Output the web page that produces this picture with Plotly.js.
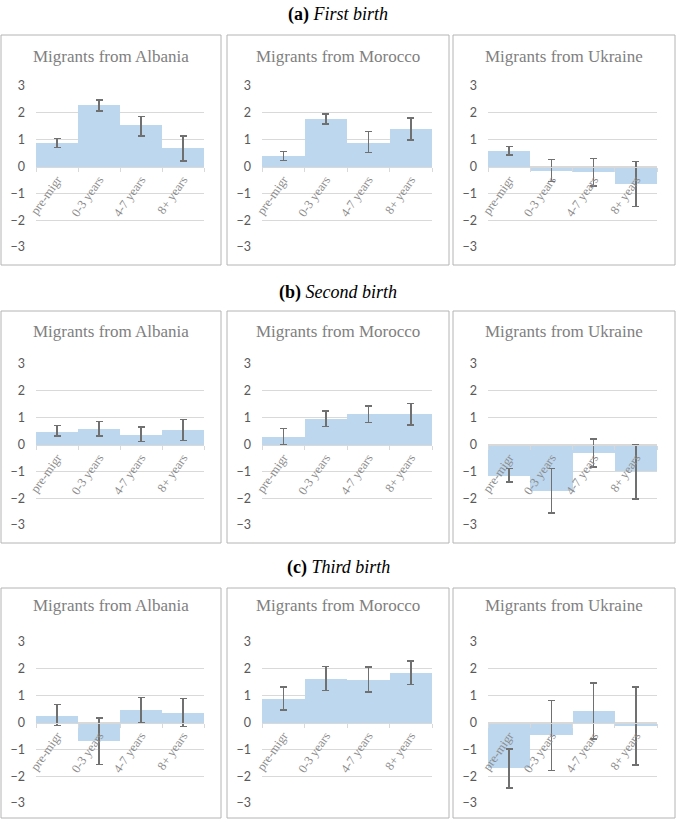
<!DOCTYPE html>
<html>
<head>
<meta charset="utf-8">
<script src="https://cdn.plot.ly/plotly-3.0.1.min.js"></script>
<style>
  html, body { margin: 0; padding: 0; background: #fff; }
  #chart { width: 676px; height: 819px; }
</style>
</head>
<body>
<div id="chart"></div>
<script>
const categories = ["pre-migr", "0-3 years", "4-7 years", "8+ years"];
const countries = ["Albania", "Morocco", "Ukraine"];
const sectionLabels = ["(a)", "(b)", "(c)"];
const sectionNames = ["First birth", "Second birth", "Third birth"];
const yTicks = [-3, -2, -1, 0, 1, 2, 3];

// first birth
const albania1 = [0.89, 2.28, 1.54, 0.69];
const albania1Hi = [1.05, 2.47, 1.86, 1.14];
const albania1Lo = [0.70, 2.07, 1.14, 0.21];
const morocco1 = [0.40, 1.77, 0.89, 1.38];
const morocco1Hi = [0.56, 1.96, 1.30, 1.80];
const morocco1Lo = [0.22, 1.58, 0.52, 0.99];
const ukraine1 = [0.58, -0.15, -0.20, -0.64];
const ukraine1Hi = [0.74, 0.27, 0.30, 0.19];
const ukraine1Lo = [0.43, -0.56, -0.72, -1.49];

// second birth
const albania2 = [0.48, 0.58, 0.37, 0.53];
const albania2Hi = [0.70, 0.85, 0.66, 0.93];
const albania2Lo = [0.31, 0.32, 0.11, 0.14];
const morocco2 = [0.29, 0.95, 1.12, 1.14];
const morocco2Hi = [0.60, 1.24, 1.44, 1.52];
const morocco2Lo = [-0.01, 0.67, 0.82, 0.73];
const ukraine2 = [-1.16, -1.72, -0.30, -1.00];
const ukraine2Hi = [-0.90, -0.90, 0.20, 0.00];
const ukraine2Lo = [-1.40, -2.56, -0.83, -2.03];

// third birth
const albania3 = [0.26, -0.68, 0.46, 0.37];
const albania3Hi = [0.67, 0.16, 0.93, 0.89];
const albania3Lo = [-0.12, -1.56, -0.01, -0.14];
const morocco3 = [0.89, 1.63, 1.58, 1.85];
const morocco3Hi = [1.33, 2.09, 2.06, 2.30];
const morocco3Lo = [0.46, 1.19, 1.14, 1.41];
const ukraine3 = [-1.71, -0.48, 0.42, -0.12];
const ukraine3Hi = [-0.99, 0.82, 1.47, 1.32];
const ukraine3Lo = [-2.45, -1.79, -0.62, -1.59];

const panels = [
  [[albania1, albania1Hi, albania1Lo], [morocco1, morocco1Hi, morocco1Lo], [ukraine1, ukraine1Hi, ukraine1Lo]],
  [[albania2, albania2Hi, albania2Lo], [morocco2, morocco2Hi, morocco2Lo], [ukraine2, ukraine2Hi, ukraine2Lo]],
  [[albania3, albania3Hi, albania3Lo], [morocco3, morocco3Hi, morocco3Lo], [ukraine3, ukraine3Hi, ukraine3Lo]],
];

// page geometry in pixels
const W = 676;
const H = 819;
const sectionY = [14, 292, 567];
const rowBox = [[35, 265], [311, 543], [588, 818]];
const rowPlot = [[86, 247], [364, 525], [642, 803]];
const rowTitle = [57, 331, 605];
const colBox = [[1, 221], [227, 449], [453, 675]];
const colPlot = [[36, 204], [262, 432], [488, 657]];

const px = (x) => x / W;
const py = (y) => 1 - y / H;

const GREY_TEXT = "#808080";
const GRID = "#d9d9d9";

let data = [];
let layout = {
  width: W,
  height: H,
  margin: { l: 0, r: 0, t: 0, b: 0 },
  paper_bgcolor: "#fff",
  plot_bgcolor: "rgba(0,0,0,0)",
  showlegend: false,
  bargap: 0,
  shapes: [],
  annotations: [],
};

for (let r = 0; r < 3; r++) {
  layout.annotations.push({
    xref: "paper",
    yref: "paper",
    x: 0.5,
    y: py(sectionY[r]),
    xanchor: "center",
    yanchor: "middle",
    showarrow: false,
    text: "<b>" + sectionLabels[r] + "</b> <i>" + sectionNames[r] + "</i>",
    font: { family: "Liberation Serif", size: 18, color: "#000" },
  });

  for (let c = 0; c < 3; c++) {
    const n = r * 3 + c + 1;
    const sfx = n === 1 ? "" : String(n);
    const [vals, hi, lo] = panels[r][c];

    data.push({
      type: "bar",
      x: categories,
      y: vals,
      xaxis: "x" + sfx,
      yaxis: "y" + sfx,
      marker: { color: "#bdd7ee", line: { width: 0 } },
      error_y: {
        type: "data",
        symmetric: false,
        array: hi.map((h, i) => h - vals[i]),
        arrayminus: lo.map((l, i) => vals[i] - l),
        color: "#707070",
        thickness: 1.5,
        width: 3.5,
      },
      hoverinfo: "skip",
    });

    const yDom = [py(rowPlot[r][1]), py(rowPlot[r][0])];
    layout["xaxis" + sfx] = {
      domain: [px(colPlot[c][0]), px(colPlot[c][1])],
      anchor: "free",
      position: (yDom[0] + yDom[1]) / 2,
      type: "category",
      showgrid: false,
      zeroline: false,
      showline: true,
      linecolor: GRID,
      linewidth: 1,
      ticks: "outside",
      tickson: "boundaries",
      ticklen: 4,
      tickcolor: GRID,
      tickangle: -55,
      tickfont: { family: "Liberation Serif", size: 12.5, color: "#8c8c8c" },
      fixedrange: true,
      automargin: false,
    };
    layout["yaxis" + sfx] = {
      domain: yDom,
      anchor: "x" + sfx,
      range: [-3, 3],
      tickvals: yTicks,
      showgrid: true,
      gridcolor: GRID,
      gridwidth: 1,
      zeroline: false,
      showline: false,
      ticks: "",
      ticklabelstandoff: 10,
      tickfont: { family: "Lato", size: 12.5, color: "#595959" },
      fixedrange: true,
      automargin: false,
    };

    layout.shapes.push({
      type: "rect",
      xref: "paper",
      yref: "paper",
      x0: px(colBox[c][0]),
      x1: px(colBox[c][1]),
      y0: py(rowBox[r][1]),
      y1: py(rowBox[r][0]),
      line: { color: "#b4b4b4", width: 1 },
      fillcolor: "rgba(0,0,0,0)",
      layer: "below",
    });

    layout.annotations.push({
      xref: "paper",
      yref: "paper",
      x: px((colBox[c][0] + colBox[c][1]) / 2),
      y: py(rowTitle[r]),
      xanchor: "center",
      yanchor: "middle",
      showarrow: false,
      text: "Migrants from " + countries[c],
      font: { family: "Liberation Serif", size: 17, color: GREY_TEXT },
    });
  }
}

Plotly.newPlot("chart", data, layout, { staticPlot: true, displayModeBar: false });
</script>
</body>
</html>
